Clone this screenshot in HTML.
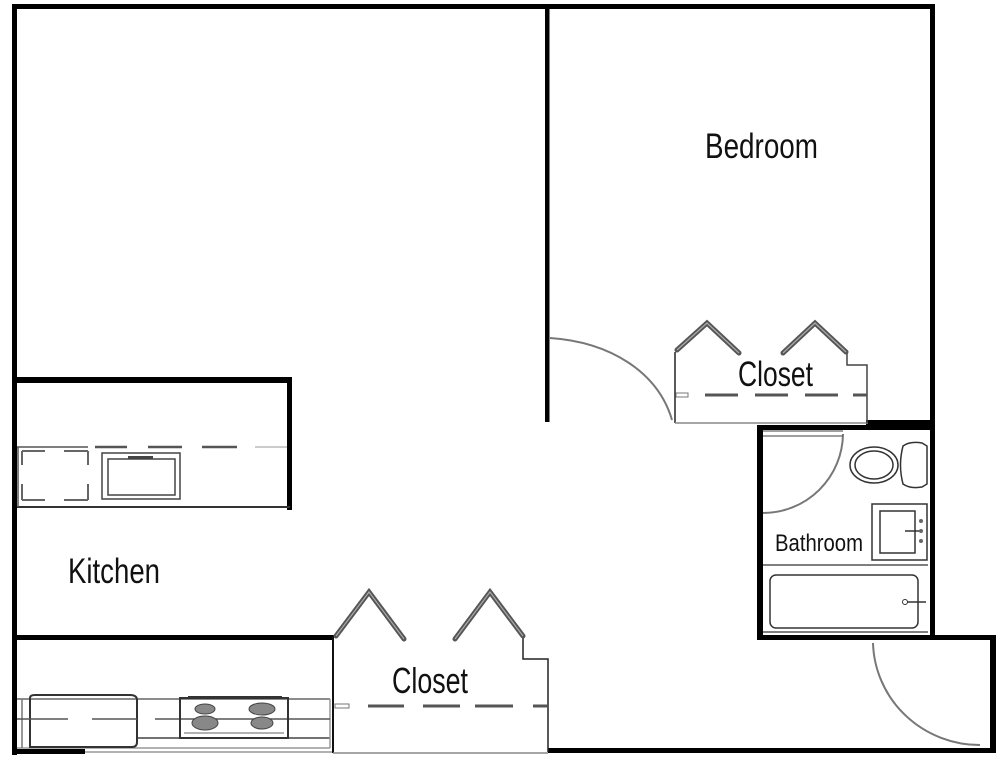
<!DOCTYPE html>
<html>
<head>
<meta charset="utf-8">
<style>
html,body{margin:0;padding:0;background:#fff;}
svg{display:block;}
text{font-family:"Liberation Sans",sans-serif;fill:#111;}
</style>
</head>
<body>
<svg width="1008" height="768" viewBox="0 0 1008 768" xmlns="http://www.w3.org/2000/svg">
<rect x="0" y="0" width="1008" height="768" fill="#fff"/>

<!-- ===== Main walls ===== -->
<g fill="#000">
  <rect x="12" y="4" width="923" height="5"/>
  <rect x="12" y="4" width="5" height="751"/>
  <rect x="545" y="4" width="4.5" height="418"/>
  <rect x="930" y="4" width="5" height="636"/>
  <!-- kitchen upper partition -->
  <rect x="12" y="377" width="280" height="6"/>
  <rect x="287" y="377" width="5" height="133"/>
  <!-- kitchen lower partition -->
  <rect x="12" y="635" width="322" height="5"/>
  <!-- bottom wall pieces -->
  <rect x="15" y="749" width="70" height="5"/>
  <rect x="548" y="748" width="448" height="5"/>
  <!-- bathroom walls -->
  <rect x="757" y="425" width="6" height="215"/>
  <rect x="757" y="425" width="178" height="5"/>
  <rect x="866" y="420" width="69" height="10"/>
  <rect x="757" y="635" width="239" height="5"/>
  <rect x="990" y="635" width="6" height="118"/>
</g>

<!-- thin gray/black lines -->
<g stroke="#333" stroke-width="1.5" fill="none">
  <line x1="85" y1="752" x2="333" y2="752" stroke="#999"/>
  <line x1="333" y1="637" x2="333" y2="753" stroke="#111" stroke-width="2"/>
  <line x1="333" y1="753" x2="548" y2="753" stroke="#888"/>
  <!-- lower closet right side -->
  <polyline points="523,638 523,659 548,659 548,752" stroke="#222" stroke-width="1.5"/>
  <!-- upper closet -->
  <line x1="675" y1="352" x2="675" y2="423" stroke="#222"/>
  <line x1="675" y1="423" x2="868" y2="423" stroke="#888"/>
  <polyline points="847,352 847,365 867,365 867,423" stroke="#444"/>
</g>

<!-- ===== Bifold closet doors ===== -->
<g stroke="#555" stroke-width="5" stroke-linecap="round" fill="none">
  <polyline points="677,350 707,323 739,353"/>
  <polyline points="783,353 815,323 846,352"/>
  <polyline points="336,636 369,592 404,639"/>
  <polyline points="455,639 490,592 523,636"/>
</g>
<g stroke="#aaa" stroke-width="1.2" fill="none">
  <polyline points="677,350 707,323 739,353"/>
  <polyline points="783,353 815,323 846,352"/>
  <polyline points="336,636 369,592 404,639"/>
  <polyline points="455,639 490,592 523,636"/>
</g>

<!-- closet dashed rods -->
<g stroke="#555" stroke-width="3" fill="none">
  <line x1="705" y1="395" x2="738" y2="395"/>
  <line x1="755" y1="395" x2="788" y2="395"/>
  <line x1="805" y1="395" x2="838" y2="395"/>
  <line x1="853" y1="395" x2="867" y2="395"/>
  <line x1="368" y1="706" x2="404" y2="706"/>
  <line x1="423" y1="706" x2="460" y2="706"/>
  <line x1="475" y1="706" x2="513" y2="706"/>
  <line x1="533" y1="706" x2="548" y2="706"/>
</g>
<rect x="676" y="393" width="12" height="4" fill="#fff" stroke="#777" stroke-width="1"/>
<rect x="335" y="704" width="14" height="4" fill="#fff" stroke="#777" stroke-width="1"/>

<!-- ===== Door swings ===== -->
<g stroke="#777" stroke-width="2" fill="none">
  <path d="M550,338 C610,342 658,372 672,420"/>
  <path d="M843,434 A80,80 0 0 1 763,513"/>
  <path d="M873,643 A107,105 0 0 0 980,745"/>
</g>
<g stroke="#666" stroke-width="1.2">
  <line x1="763" y1="431" x2="843" y2="431"/>
  <line x1="763" y1="436" x2="843" y2="436"/>
</g>

<!-- ===== Kitchen upper counter ===== -->
<g fill="none" stroke="#555" stroke-width="1.5">
  <line x1="17" y1="447" x2="88" y2="447"/>
  <line x1="95" y1="447" x2="127" y2="447" stroke-width="2.5"/>
  <line x1="148" y1="447" x2="182" y2="447" stroke-width="2.5"/>
  <line x1="202" y1="447" x2="237" y2="447" stroke-width="2.5"/>
  <line x1="255" y1="447" x2="287" y2="447" stroke="#bbb"/>
  <line x1="17" y1="507" x2="290" y2="507" stroke="#333" stroke-width="2"/>
  <line x1="18" y1="447" x2="18" y2="507"/>
  <!-- dishwasher dashed -->
  <path d="M22,451 H45 M64,451 H88 M88,451 V465 M88,484 V500 M88,500 H64 M45,500 H22 M22,500 V484 M22,465 V451" stroke="#666" stroke-width="2"/>
  <!-- sink -->
  <rect x="102" y="453" width="78" height="46" stroke="#444" stroke-width="1.5"/>
  <rect x="108" y="459" width="67" height="36" stroke="#444" stroke-width="1.5"/>
</g>
<rect x="128" y="456" width="25" height="3.5" fill="#444"/>

<!-- ===== Kitchen lower counter ===== -->
<g fill="none" stroke="#444" stroke-width="1.5">
  <line x1="17" y1="699" x2="330" y2="699" stroke="#666"/>
  <line x1="17" y1="748" x2="330" y2="748" stroke="#999"/>
  <line x1="137" y1="738" x2="330" y2="738"/>
  <line x1="330" y1="699" x2="330" y2="748" stroke="#999"/>
  <!-- fridge -->
  <path d="M30,698 Q30,695 35,695 L130,695 Q137,695 137,700 L137,742 Q137,747 132,747 L30,747 Z" stroke="#333" stroke-width="2"/>
  <line x1="22" y1="699" x2="22" y2="748" stroke="#777"/>
  <!-- middle line -->
  <path d="M17,719 H68 M92,719 H137 M155,719 H180 M180,719 H288 M288,719 H330" stroke="#555"/>
  <!-- stove -->
  <rect x="180" y="698" width="108" height="40" stroke="#333" stroke-width="2"/>
  <line x1="184" y1="733" x2="284" y2="733" stroke="#666" stroke-width="1"/>
</g>
<rect x="188" y="696" width="94" height="3" fill="#333"/>
<g fill="#888" stroke="#444" stroke-width="1">
  <ellipse cx="205" cy="709" rx="10" ry="5"/>
  <ellipse cx="262" cy="709" rx="13" ry="6"/>
  <ellipse cx="205" cy="723" rx="13" ry="7"/>
  <ellipse cx="262" cy="723" rx="11" ry="6"/>
</g>

<!-- ===== Bathroom fixtures ===== -->
<g fill="none" stroke="#333" stroke-width="1.5">
  <!-- toilet -->
  <ellipse cx="874" cy="465" rx="24" ry="18"/>
  <ellipse cx="874" cy="465" rx="19" ry="14"/>
  <path d="M903,446 Q910,441 922,443 L927,446 L927,484 L922,487 Q910,489 903,484 Q898,465 903,446 Z"/>
  <!-- sink -->
  <rect x="872" y="504" width="55" height="56"/>
  <rect x="880" y="511" width="35" height="42"/>
  <line x1="905" y1="531" x2="920" y2="531"/>
  <!-- divider -->
  <line x1="763" y1="565" x2="928" y2="565" stroke="#555"/>
  <line x1="763" y1="632" x2="928" y2="632" stroke="#555"/>
  <!-- tub -->
  <rect x="770" y="575" width="148" height="53" rx="6"/>
  <line x1="906" y1="602" x2="926" y2="602"/>
</g>
<g fill="#666">
  <circle cx="921" cy="521" r="2"/>
  <circle cx="921" cy="531" r="2"/>
  <circle cx="921" cy="541" r="2"/>
  <circle cx="905" cy="602" r="2.5" fill="#fff" stroke="#333"/>
</g>

<!-- ===== Labels ===== -->
<text x="705" y="158" font-size="35" textLength="113" lengthAdjust="spacingAndGlyphs">Bedroom</text>
<text x="738" y="386" font-size="35" textLength="75" lengthAdjust="spacingAndGlyphs">Closet</text>
<text x="68" y="583" font-size="35" textLength="92" lengthAdjust="spacingAndGlyphs">Kitchen</text>
<text x="392" y="693" font-size="36" textLength="76" lengthAdjust="spacingAndGlyphs">Closet</text>
<text x="775" y="551" font-size="24" textLength="88" lengthAdjust="spacingAndGlyphs">Bathroom</text>
</svg>
</body>
</html>
